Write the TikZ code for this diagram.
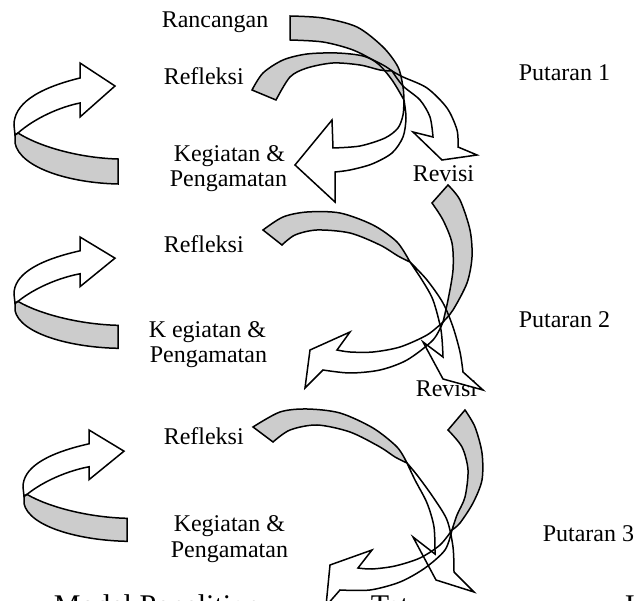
\documentclass[tikz,border=0pt]{standalone}
\usepackage{fontspec}
\setmainfont{Liberation Serif}
\definecolor{band}{RGB}{204,204,204}
\begin{document}
\begin{tikzpicture}[x=1pt,y=-1pt,line width=1.5pt,line join=miter,
  lbl/.style={font=\fontsize{24}{28}\selectfont,anchor=base west,inner sep=0pt},
  capt/.style={font=\fontsize{30}{34}\selectfont,anchor=base west,inner sep=0pt}]
\useasboundingbox (0,0) rectangle (635,601);
\clip (0,0) rectangle (635,601);
% ---------- labels ----------
\node[lbl] (ranc) at (161,28) {Rancangan};
\node[lbl] (ref1) at (163,85) {Refleksi};
\node[lbl] (keg1) at (173,162) {Kegiatan \&};
\node[lbl] (pen1) at (169,187) {Pengamatan};
\node[lbl] (put1) at (518,81) {Putaran 1};
\node[lbl] (rev1) at (412,182) {Revisi};
\node[lbl] (ref2) at (163,253) {Refleksi};
\node[lbl] (keg2) at (148,338) {K egiatan \&};
\node[lbl] (pen2) at (149,363) {Pengamatan};
\node[lbl] (put2) at (518,328) {Putaran 2};
\node[lbl] (rev2) at (415,397) {Revisi};
\node[lbl] (ref3) at (163,445) {Refleksi};
\node[lbl] (keg3) at (173,532) {Kegiatan \&};
\node[lbl] (pen3) at (170,558) {Pengamatan};
\node[lbl] (put3) at (542,541) {Putaran 3};
\node[capt] (capA) at (53,615) {Model Penelitian};
\node[capt] (capB) at (370,615) {Tat};
\node[capt] (capC) at (624,615) {I};
% ---------- left U-turn arrows ----------
\def\LW{(18,70) .. controls (35,55) and (60,44) .. (80,40) -- (80,54) -- (115,23) -- (80,0) -- (80,15) .. controls (35,26) and (14,42) .. (14,62) -- (15,72) -- cycle}
\def\LG{(18,70) .. controls (40,84) and (80,95) .. (118,96) -- (118,121) .. controls (70,120) and (20,105) .. (15,80) -- (15,72) -- cycle}
\foreach \dx/\dy/\sy in {0/63/1,0/237/0.92,9/430/0.92}{
  \begin{scope}[shift={(\dx,\dy)},yscale=\sy]
    \fill[band] \LG;
    \fill[white] \LW;
    \draw \LG;
    \draw \LW;
  \end{scope}
}
% ---------- cycle shapes ----------
\def\FoneG{plot[smooth] coordinates {(252,90)(263,73)(283,60)(307,54)(337,53)(363,56)(383,65)(392,71)} -- plot[smooth] coordinates {(392,71)(380,70)(360,65)(333,63)(307,68)(290,77)(276,100)} -- cycle}
\def\FoneW{plot[smooth] coordinates {(392,71)(403,77)(427,88)(447,108)(457,130)(458,147)} -- (477,155) -- (442,160) -- (413,132) -- (433,137) -- plot[smooth] coordinates {(433,137)(430,117)(420,100)(403,86)(392,71)} -- cycle}
\def\RoneG{plot[smooth] coordinates {(290,16)(323,18)(357,27)(383,47)(398,67)(403,87)(404,100)} -- plot[smooth] coordinates {(404,100)(392,80)(377,63)(353,50)(323,42)(290,40)} -- cycle}
\def\RoneW{plot[smooth] coordinates {(404,100)(406,118)(403,137)(392,153)(372,164)(350,170)(335,172)} -- (335,202) -- (295,165) -- (332,120) -- (333,148) -- plot[smooth] coordinates {(333,148)(360,146)(385,138)(398,128)(403,115)(404,100)} -- cycle}
\def\FtwoG{plot[smooth] coordinates {(263,230)(283,217)(307,212)(340,213)(373,225)(397,242)(410,262)} -- plot[smooth] coordinates {(410,262)(398,256)(380,245)(350,233)(317,230)(295,235)(282,245)} -- cycle}
\def\FtwoW{plot[smooth] coordinates {(410,262)(427,280)(443,303)(453,327)(460,352)(463,372)} -- (483,390) -- (443,379) -- (423,342) -- (443,357) -- plot[smooth] coordinates {(443,357)(441,330)(433,300)(422,280)(410,262)} -- cycle}
\def\RtwoG{plot[smooth] coordinates {(448,185)(460,200)(470,230)(472,257)(467,283)(453,310)(443,322)} -- plot[smooth] coordinates {(443,322)(448,300)(453,270)(452,243)(443,220)(432,203)} -- cycle}
\def\RtwoW{plot[smooth] coordinates {(443,322)(433,340)(407,360)(380,370)(350,373)(323,370)} -- (305,388) -- (310,350) -- (350,332) -- (337,350) -- plot[smooth] coordinates {(337,350)(350,352)(373,352)(400,347)(427,335)(443,322)} -- cycle}
\def\FthreeG{plot[smooth] coordinates {(253,427)(280,412)(307,409)(340,413)(373,428)(397,447)(407,463)} -- plot[smooth] coordinates {(407,463)(395,457)(380,447)(350,432)(317,425)(290,430)(273,442)} -- cycle}
\def\FthreeW{plot[smooth] coordinates {(407,463)(417,475)(433,497)(447,520)(453,547)(454,572)} -- (474,592) -- (436,580) -- (413,537) -- (435,554) -- plot[smooth] coordinates {(435,554)(434,527)(427,503)(415,480)(407,463)} -- cycle}
\def\RthreeG{plot[smooth] coordinates {(465,410)(475,427)(482,453)(482,480)(473,503)(460,523)(452,530)} -- plot[smooth] coordinates {(452,530)(457,515)(465,497)(468,470)(462,447)(448,430)} -- cycle}
\def\RthreeW{plot[smooth] coordinates {(452,530)(445,550)(425,568)(400,582)(370,590)(340,590)} -- (326,606) -- (330,565) -- (372,550) -- (358,568) -- plot[smooth] coordinates {(358,568)(372,569)(395,566)(420,558)(440,545)(452,530)} -- cycle}
% fills: white fronts, then grey backs
\fill[white] \RoneW; \fill[white] \FoneW;
\fill[white] \RtwoW; \fill[white] \FtwoW;
\fill[white] \RthreeW; \fill[white] \FthreeW;
\fill[band] \RoneG; \fill[band] \FoneG;
\fill[band] \RtwoG; \fill[band] \FtwoG;
\fill[band] \RthreeG; \fill[band] \FthreeG;
% outlines
\draw \RoneW; \draw \FoneW; \draw \RoneG; \draw \FoneG;
\draw \RtwoW; \draw \FtwoW; \draw \RtwoG; \draw \FtwoG;
\draw \RthreeW; \draw \FthreeW; \draw \RthreeG; \draw \FthreeG;
\end{tikzpicture}
\end{document}
